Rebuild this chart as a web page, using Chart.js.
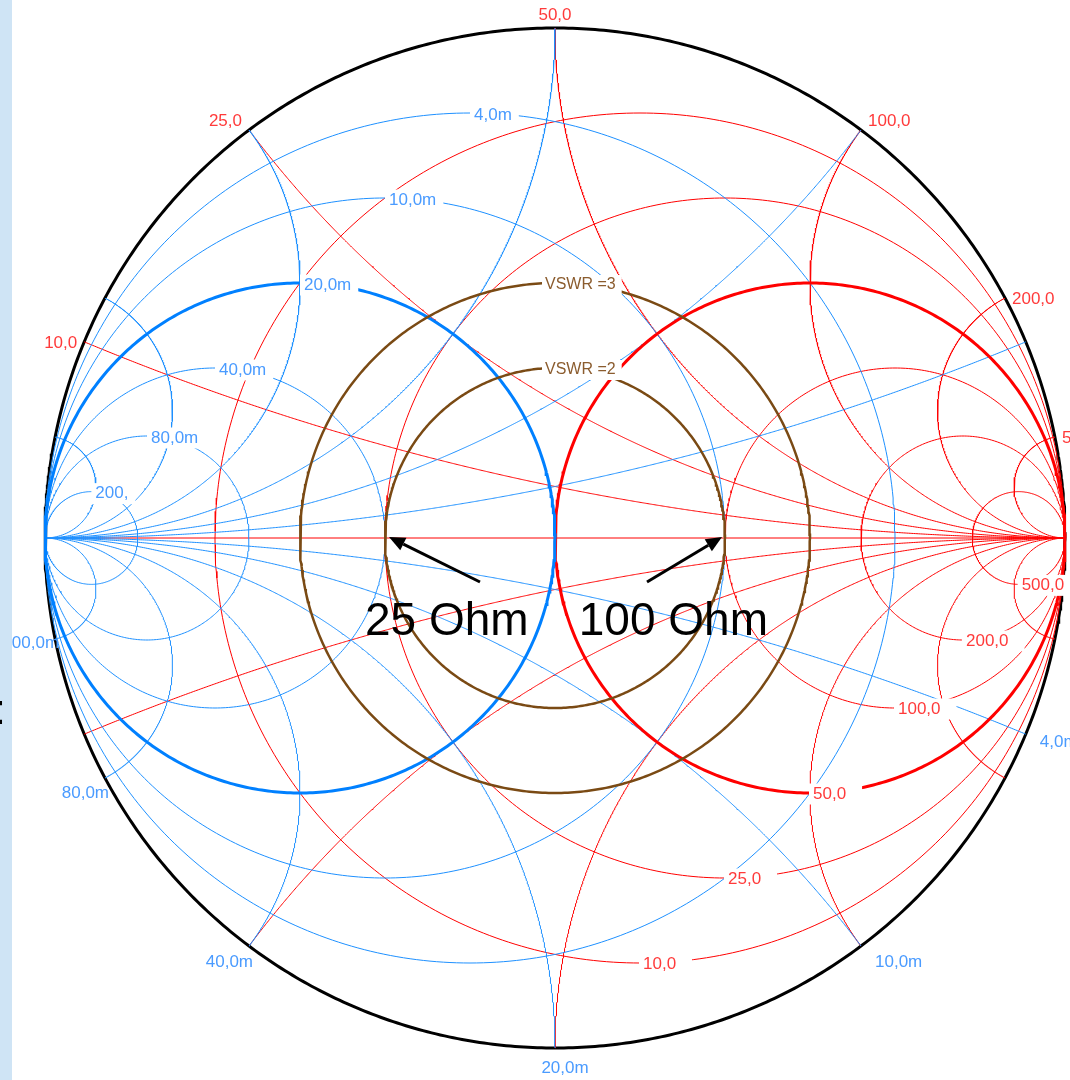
<!DOCTYPE html>
<html><head><meta charset="utf-8">
<script src="https://cdn.jsdelivr.net/npm/chart.js@4.4.1/dist/chart.umd.min.js"></script>
<style>html,body{margin:0;padding:0;background:#fff;overflow:hidden}#wrap{width:1070px;height:1080px;position:relative}</style>
</head><body><div id="wrap"><canvas id="c"></canvas></div>
<script>
// ---- data ----
const Z0 = 50;          // ohm
const Y0 = 20;          // mS
const resistanceOhm = [10, 25, 50, 100, 200, 500];
const resistanceLabels = ['10,0', '25,0', '50,0', '100,0', '200,0', '500,0'];
const reactanceOhm = [10, 25, 50, 100, 200, 500];
const reactanceLabels = ['10,0', '25,0', '50,0', '100,0', '200,0', '500,0'];
const conductanceMS = [4, 10, 20, 40, 80, 200];
const conductanceLabels = ['4,0m', '10,0m', '20,0m', '40,0m', '80,0m', '200,'];
const susceptanceMS = [4, 10, 20, 40, 80, 200];
const susceptanceLabels = ['4,0m', '10,0m', '20,0m', '40,0m', '80,0m', '200,0m'];
const vswrValues = [2, 3];
const vswrLabels = ['VSWR =2', 'VSWR =3'];
const markerOhm = [25, 100];
const markerLabels = ['25 Ohm', '100 Ohm'];
const highlightOhm = 50;
const highlightMS = 20;

// ---- styles ----
const RED = '#ff0000', RED_TXT = '#ff3a3a';
const BLUE = '#1e90ff', BLUE_THICK = '#0080ff', BLUE_TXT = '#4a9bff';
const BROWN = '#7a4a14', BROWN_TXT = '#8b5c2e';
const FONT = '"Liberation Sans", Arial, sans-serif';

// ---- Smith chart geometry ----
function zGamma(r, x) { const d = (r + 1) * (r + 1) + x * x; return { x: (r * r + x * x - 1) / d, y: 2 * x / d }; }
function yGamma(g, b) { const p = zGamma(g, b); return { x: -p.x, y: -p.y }; }
function circle(cx, cy, R, n) { const a = []; for (let i = 0; i <= n; i++) { const t = 2 * Math.PI * i / n; a.push({ x: cx + R * Math.cos(t), y: cy + R * Math.sin(t) }); } return a; }
function sweep(fn, fixed) { const a = []; const N = 700; for (let i = 0; i < N; i++) { const t = (i / N) * Math.PI / 2; a.push(fn(Math.tan(t), fixed)); } a.push(fn(1e12, fixed)); return a; }

const layers = [];
function addLine(points, color, width) {
  layers.push({ data: points, showLine: true, borderColor: color, backgroundColor: color, borderWidth: width,
    pointRadius: 0, pointHoverRadius: 0, fill: false, tension: 0, clip: false, borderCapStyle: 'butt' });
}
// perimeter
addLine(circle(0, 0, 1, 720), '#000', 3);
// thin red: real axis, resistance circles, reactance arcs
addLine([{ x: -1, y: 0 }, { x: 1, y: 0 }], RED, 1);
resistanceOhm.forEach(R => { if (R === highlightOhm) return; const r = R / Z0; addLine(circle(r / (1 + r), 0, 1 / (1 + r), 400), RED, 1); });
reactanceOhm.forEach(X => { const x = X / Z0; addLine(sweep(zGamma, x), RED, 1); addLine(sweep(zGamma, -x), RED, 1); });
// thin blue: conductance circles, susceptance arcs
conductanceMS.forEach(G => { if (G === highlightMS) return; const g = G / Y0; addLine(circle(-g / (1 + g), 0, 1 / (1 + g), 400), BLUE, 1); });
susceptanceMS.forEach(B => { const b = B / Y0; addLine(sweep(yGamma, b), BLUE, 1); addLine(sweep(yGamma, -b), BLUE, 1); });
// thick highlight circles
{ const r = highlightOhm / Z0; addLine(circle(r / (1 + r), 0, 1 / (1 + r), 500), RED, 3); }
{ const g = highlightMS / Y0; addLine(circle(-g / (1 + g), 0, 1 / (1 + g), 500), BLUE_THICK, 3); }
// VSWR circles
vswrValues.forEach(s => addLine(circle(0, 0, (s - 1) / (s + 1), 500), BROWN, 2.5));
// Chart.js draws dataset 0 last (on top) -> reverse so the list above is bottom-to-top
const datasets = layers.slice().reverse();

// ---- labels / annotations plugin ----
function boxedText(ctx, txt, x, y, color, fs, padL, padR) {
  ctx.font = fs + 'px ' + FONT;
  const w = ctx.measureText(txt).width;
  ctx.fillStyle = '#fff';
  ctx.fillRect(x - padL, y - fs * 0.5 - 2, w + padL + padR, fs + 4);
  ctx.fillStyle = color; ctx.textAlign = 'left'; ctx.textBaseline = 'middle';
  ctx.fillText(txt, x, y);
}
function plainText(ctx, txt, x, y, color, fs, align) {
  ctx.font = fs + 'px ' + FONT; ctx.fillStyle = color; ctx.textAlign = align; ctx.textBaseline = 'middle';
  ctx.fillText(txt, x, y);
}
function arrow(ctx, x0, y0, x1, y1) {
  const a = Math.atan2(y1 - y0, x1 - x0), L = 16, W = 7;
  const bx = x1 - L * Math.cos(a), by = y1 - L * Math.sin(a);
  ctx.strokeStyle = '#000'; ctx.lineWidth = 3; ctx.lineCap = 'butt';
  ctx.beginPath(); ctx.moveTo(x0, y0); ctx.lineTo(bx, by); ctx.stroke();
  ctx.fillStyle = '#000'; ctx.beginPath(); ctx.moveTo(x1, y1);
  ctx.lineTo(bx + W * Math.sin(a), by - W * Math.cos(a));
  ctx.lineTo(bx - W * Math.sin(a), by + W * Math.cos(a)); ctx.closePath(); ctx.fill();
}

const smithLabels = {
  id: 'smithLabels',
  afterDatasetsDraw(chart) {
    const ctx = chart.ctx, xs = chart.scales.x, ys = chart.scales.y;
    const px = p => ({ x: xs.getPixelForValue(p.x), y: ys.getPixelForValue(p.y) });
    ctx.save();
    // resistance labels at bottom of r circles
    resistanceOhm.forEach((R, i) => { const r = R / Z0; const p = px({ x: r / (1 + r), y: -1 / (1 + r) });
      boxedText(ctx, resistanceLabels[i], p.x + 3, p.y + 1, RED_TXT, 17, 4, 16); });
    // conductance labels at top of g circles
    conductanceMS.forEach((G, i) => { const g = G / Y0; const p = px({ x: -g / (1 + g), y: 1 / (1 + g) });
      boxedText(ctx, conductanceLabels[i], p.x + 4, p.y + 2, BLUE_TXT, 17, 4, 7); });
    // VSWR labels
    vswrValues.forEach((s, i) => { const p = px({ x: 0, y: (s - 1) / (s + 1) });
      boxedText(ctx, vswrLabels[i], p.x - 10, p.y + 2, BROWN_TXT, 16, 3, 6); });
    // reactance labels on the perimeter (upper half)
    reactanceOhm.forEach((X, i) => { const g = zGamma(0, X / Z0); const p = px(g);
      const c = g.x;
      if (Math.abs(c) < 0.2) plainText(ctx, reactanceLabels[i], p.x, p.y - 13, RED_TXT, 17, 'center');
      else if (Math.abs(c) < 0.75) plainText(ctx, reactanceLabels[i], p.x + (c < 0 ? -7 : 7), p.y - 9, RED_TXT, 17, c < 0 ? 'right' : 'left');
      else plainText(ctx, reactanceLabels[i], p.x + (c < 0 ? -7 : 7), p.y + 1, RED_TXT, 17, c < 0 ? 'right' : 'left');
    });
    // susceptance labels on the perimeter (lower half)
    susceptanceMS.forEach((B, i) => { const g = yGamma(0, B / Y0); const p = px(g);
      const c = g.x, s = Math.abs(g.y);
      if (Math.abs(c) < 0.2) plainText(ctx, susceptanceLabels[i], p.x + 10, p.y + 20, BLUE_TXT, 17, 'center');
      else if (c > 0) plainText(ctx, susceptanceLabels[i], p.x + 14, p.y + 20 * s, BLUE_TXT, 17, 'left');
      else plainText(ctx, susceptanceLabels[i], p.x + 4, p.y + 20 * s + (c > -0.95 && c < -0.75 ? 6 : 0), BLUE_TXT, 17, 'right');
    });
    // annotation arrows + texts
    markerOhm.forEach((R, i) => { const r = R / Z0; const g = zGamma(r, 0); const p = px(g);
      ctx.font = '46px ' + FONT; ctx.fillStyle = '#000'; ctx.textBaseline = 'alphabetic';
      if (g.x < 0) {
        const tip = { x: p.x + 4, y: p.y - 1 };
        arrow(ctx, tip.x + 91, tip.y + 45, tip.x, tip.y);
        ctx.textAlign = 'left'; ctx.fillText(markerLabels[i], p.x - 20, p.y + 97);
      } else {
        const tip = { x: p.x - 3, y: p.y - 1 };
        arrow(ctx, tip.x - 75, tip.y + 45, tip.x, tip.y);
        ctx.textAlign = 'right'; ctx.fillText(markerLabels[i], p.x + 43, p.y + 97);
      }
    });
    ctx.restore();
  },
  afterDraw(chart) {
    const ctx = chart.ctx;
    ctx.save();
    ctx.fillStyle = 'rgb(207,228,245)';
    ctx.fillRect(0, 0, 12, chart.height);
    ctx.fillStyle = '#000'; ctx.font = '43px ' + FONT; ctx.textAlign = 'left'; ctx.textBaseline = 'alphabetic';
    ctx.fillText(':', -6, 724);
    ctx.restore();
  }
};

new Chart(document.getElementById('c'), {
  type: 'scatter',
  data: { datasets },
  options: {
    responsive: true, maintainAspectRatio: false, animation: false, events: [], devicePixelRatio: 1,
    layout: { padding: { left: 45, right: 5, top: 28, bottom: 32 } },
    scales: { x: { type: 'linear', min: -1, max: 1, display: false }, y: { type: 'linear', min: -1, max: 1, display: false } },
    plugins: { legend: { display: false }, tooltip: { enabled: false } }
  },
  plugins: [smithLabels]
});
</script></body></html>
